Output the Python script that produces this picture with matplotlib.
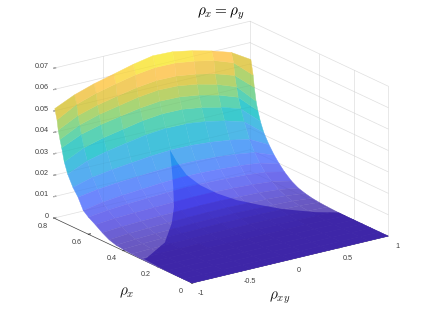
import numpy as np
import matplotlib
matplotlib.use('Agg')
import matplotlib.pyplot as plt
from matplotlib.colors import LinearSegmentedColormap
from matplotlib.path import Path
from matplotlib.transforms import IdentityTransform
from mpl_toolkits.mplot3d import proj3d

rho_xy = [-1.0, -0.8, -0.6, -0.4, -0.2, 0.0, 0.2, 0.4, 0.6, 0.8, 1.0]
rho_x = [0.795, 0.782, 0.775, 0.765, 0.755, 0.74, 0.72, 0.69, 0.66, 0.63, 0.6, 0.56,
         0.52, 0.48, 0.44, 0.4, 0.35, 0.3, 0.25, 0.2, 0.15, 0.1, 0.05, 0.0]
height = [
    [.0513, .0555, .0585, .0608, .0632, .0650, .0647, .0630, .0607, .0578, .0523],
    [.0465, .0516, .0546, .0568, .0588, .0600, .0599, .0586, .0567, .0535, .0455],
    [.0420, .0466, .0493, .0513, .0531, .0542, .0541, .0528, .0508, .0478, .0400],
    [.0380, .0426, .0453, .0472, .0490, .0501, .0499, .0485, .0462, .0429, .0340],
    [.0345, .0386, .0410, .0427, .0443, .0453, .0451, .0438, .0416, .0384, .0300],
    [.0285, .0329, .0354, .0372, .0390, .0400, .0399, .0386, .0365, .0335, .0255],
    [.0235, .0275, .0298, .0315, .0331, .0340, .0339, .0327, .0309, .0282, .0210],
    [.0185, .0210, .0224, .0234, .0244, .0250, .0249, .0242, .0230, .0212, .0165],
    [.0150, .0165, .0174, .0180, .0186, .0190, .0189, .0184, .0175, .0162, .0128],
    [.0100, .0117, .0127, .0134, .0141, .0145, .0144, .0140, .0134, .0124, .0098],
    [.0080, .0091, .0098, .0103, .0107, .0110, .0109, .0106, .0101, .0093, .0072],
    [.0060, .0068, .0072, .0075, .0078, .0080, .0080, .0077, .0072, .0064, .0045],
    [.0038, .0044, .0048, .0051, .0053, .0055, .0055, .0052, .0049, .0042, .0027],
    [.0020, .0027, .0031, .0034, .0036, .0038, .0038, .0036, .0033, .0028, .0017],
    [.0010, .0016, .0020, .0022, .0025, .0026, .0026, .0024, .0022, .0019, .0010],
    [.0006, .0010, .0013, .0014, .0016, .0017, .0017, .0016, .0014, .0012, .0006],
    [.0003, .0006, .0007, .0008, .0009, .0010, .0010, .0009, .0008, .0007, .0003],
    [.0001, .0002, .0003, .0004, .0005, .0005, .0005, .0005, .0004, .0003, .0001],
    [.0000, .0001, .0001, .0002, .0002, .0002, .0002, .0002, .0002, .0001, .0000],
    [.0000, .0000, .0000, .0001, .0001, .0001, .0001, .0001, .0001, .0000, .0000],
    [.0000, .0000, .0000, .0000, .0000, .0000, .0000, .0000, .0000, .0000, .0000],
    [.0000, .0000, .0000, .0000, .0000, .0000, .0000, .0000, .0000, .0000, .0000],
    [.0000, .0000, .0000, .0000, .0000, .0000, .0000, .0000, .0000, .0000, .0000],
    [.0000, .0000, .0000, .0000, .0000, .0000, .0000, .0000, .0000, .0000, .0000],
]

# edge of the saturated part of the surface
edge_xy = [-1.03, -1.0, -0.6, -0.3, -0.15, -0.07, -0.03, 0.0, 0.03, 0.1, 0.2, 0.33, 0.45, 0.55, 0.65, 0.85, 1.0, 1.03, 1.03, -1.03]
edge_x = [0.2626, 0.2626, 0.384, 0.515, 0.587, 0.637, 0.669, 0.696, 0.6736, 0.6557, 0.6354, 0.612, 0.565, 0.486, 0.416, 0.338, 0.29, 0.29, -0.03, -0.03]
edge_z = [.0017, .0017, 0, .0007, .004, .0105, .0182, .0247, .0198, .0135, .0085, .0041, .0014, .001, .0007, 0, 0, 0, 0, 0]

xy_ticks = [-1, -0.5, 0, 0.5, 1]
xy_labels = ['-1', '-0.5', '0', '0.5', '1']
x_ticks = [0, 0.2, 0.4, 0.6, 0.8]
x_labels = ['0', '0.2', '0.4', '0.6', '0.8']
z_ticks = [0, 0.01, 0.02, 0.03, 0.04, 0.05, 0.06, 0.07]
z_labels = ['0', '0.01', '0.02', '0.03', '0.04', '0.05', '0.06', '0.07']
# wall grid lines that show in the picture
xy_grid = [-0.5]
x_grid = [0.8, 0.4, 0.2, 0.0]

parula = LinearSegmentedColormap.from_list('parula', [
    (0 / 63, (0.2422, 0.1504, 0.6603)), (6 / 63, (0.2783, 0.2559, 0.8991)),
    (12 / 63, (0.2699, 0.3892, 0.9906)), (18 / 63, (0.1786, 0.5289, 0.9682)),
    (24 / 63, (0.1248, 0.6459, 0.8883)), (30 / 63, (0.0067, 0.7312, 0.7660)),
    (36 / 63, (0.2161, 0.7843, 0.5923)), (42 / 63, (0.5044, 0.7993, 0.3480)),
    (48 / 63, (0.8203, 0.7498, 0.1535)), (54 / 63, (0.9956, 0.7434, 0.2371)),
    (60 / 63, (0.9628, 0.9373, 0.1265)), (63 / 63, (0.9769, 0.9839, 0.0805))])

plt.rcParams['font.family'] = ['Liberation Sans', 'DejaVu Sans']
plt.rcParams['mathtext.fontset'] = 'cm'

fig = plt.figure(figsize=(4.29, 3.19), dpi=100)
ax = fig.add_axes([0.1, 0.1, 0.8, 1.0752], projection='3d', computed_zorder=False)
ax.set_proj_type('ortho')
ax.view_init(elev=19.6, azim=-125.5)
ax.set_box_aspect((240.7, 237.6, 159))
ax.set_xlim(-1, 1, view_margin=0)
ax.set_ylim(0, 0.8, view_margin=0)
ax.set_zlim(0, 0.07, view_margin=0)

X, Y = np.meshgrid(rho_xy, rho_x)
Z = np.array(height)
cell = (Z[:-1, :-1] + Z[1:, :-1] + Z[:-1, 1:] + Z[1:, 1:]) / 4
colors = parula(cell / 0.0668)
pale = colors.copy()
pale[..., :3] = colors[..., :3] * 0.78 + 0.22
back = ax.plot_surface(X, Y, Z, facecolors=pale, shade=False, linewidth=0.3, zorder=2)
back.set_edgecolor(pale.reshape(-1, 4))
solid = ax.plot_surface(X, Y, Z, facecolors=colors, shade=False, linewidth=0.3, zorder=3)
solid.set_edgecolor(colors.reshape(-1, 4))

# grid on the two back walls, once behind the surface and faintly through it
for order, col in [(1, '0.91'), (4, (0, 0, 0, 0.035))]:
    for z in z_ticks:
        ax.plot([-1, 1], [0.8, 0.8], [z, z], color=col, lw=0.5, zorder=order)
        ax.plot([1, 1], [0.8, 0], [z, z], color=col, lw=0.5, zorder=order)
    for v in xy_grid:
        ax.plot([v, v], [0.8, 0.8], [0, 0.07], color=col, lw=0.5, zorder=order)
    for v in x_grid:
        ax.plot([1, 1], [v, v], [0, 0.07], color=col, lw=0.5, zorder=order)

ax.set_xticks(xy_ticks)
ax.set_xticklabels(xy_labels, va='bottom')
ax.set_yticks(x_ticks)
ax.set_yticklabels(x_labels, va='bottom')
ax.set_zticks(z_ticks)
ax.set_zticklabels(z_labels, ha='right', va='baseline')
ax.tick_params(labelsize=5.2, colors='0.25', width=0.4)
ax.tick_params(axis='x', pad=1)
ax.tick_params(axis='y', pad=0)
ax.tick_params(axis='z', pad=-6)
ax.grid(False)
for axis in [ax.xaxis, ax.yaxis, ax.zaxis]:
    axis.set_pane_color((1, 1, 1, 1))
    axis.pane.set_edgecolor('none')
    axis._axinfo['tick'].update(inward_factor=0.0, outward_factor=0.12)
    axis.line.set_linewidth(0.5)
    axis.line.set_color('0.25')
ax.zaxis.line.set_color('none')
ax.zaxis.set_ticks_position('upper')
ax.patch.set_alpha(0)


def to_px(x, y, z):
    u, v, _ = proj3d.proj_transform(x, y, z, ax.get_proj())
    return ax.transData.transform(np.column_stack([u, v]))


# scale and shift the axes so the floor corners land where they should
fig.canvas.draw()
left = to_px([-1.0], [0.8], [0.0])[0]
right = to_px([1.0], [0.0], [0.0])[0]
scale = 334 / (right[0] - left[0])
pos = ax.get_position(original=True)
size = pos.width * 429 * scale
ax.set_position([0.1, 0.1, size / 429, size / 319])
fig.canvas.draw()
front = to_px([-1.0], [0.0], [0.0])[0]
shift_x = 192 - front[0]
shift_y = (319 - 283) - front[1]
ax.set_position([0.1 + shift_x / 429, 0.1 + shift_y / 319, size / 429, size / 319])
fig.canvas.draw()

outline = to_px(edge_xy, edge_x, edge_z)
solid.set_clip_path(Path(np.vstack([outline, outline[:1]]), closed=True), IdentityTransform())

fig.text(221 / 429, 1 - 14 / 319, r'$\rho_x = \rho_y$', fontsize=11, ha='center', va='center', color='black')
fig.text(127 / 429, 1 - 293 / 319, r'$\rho_x$', fontsize=11, ha='center', va='center', color='0.1')
fig.text(280 / 429, 1 - 298 / 319, r'$\rho_{xy}$', fontsize=11, ha='center', va='center', color='0.1')

fig.savefig('out.png', dpi=100)
